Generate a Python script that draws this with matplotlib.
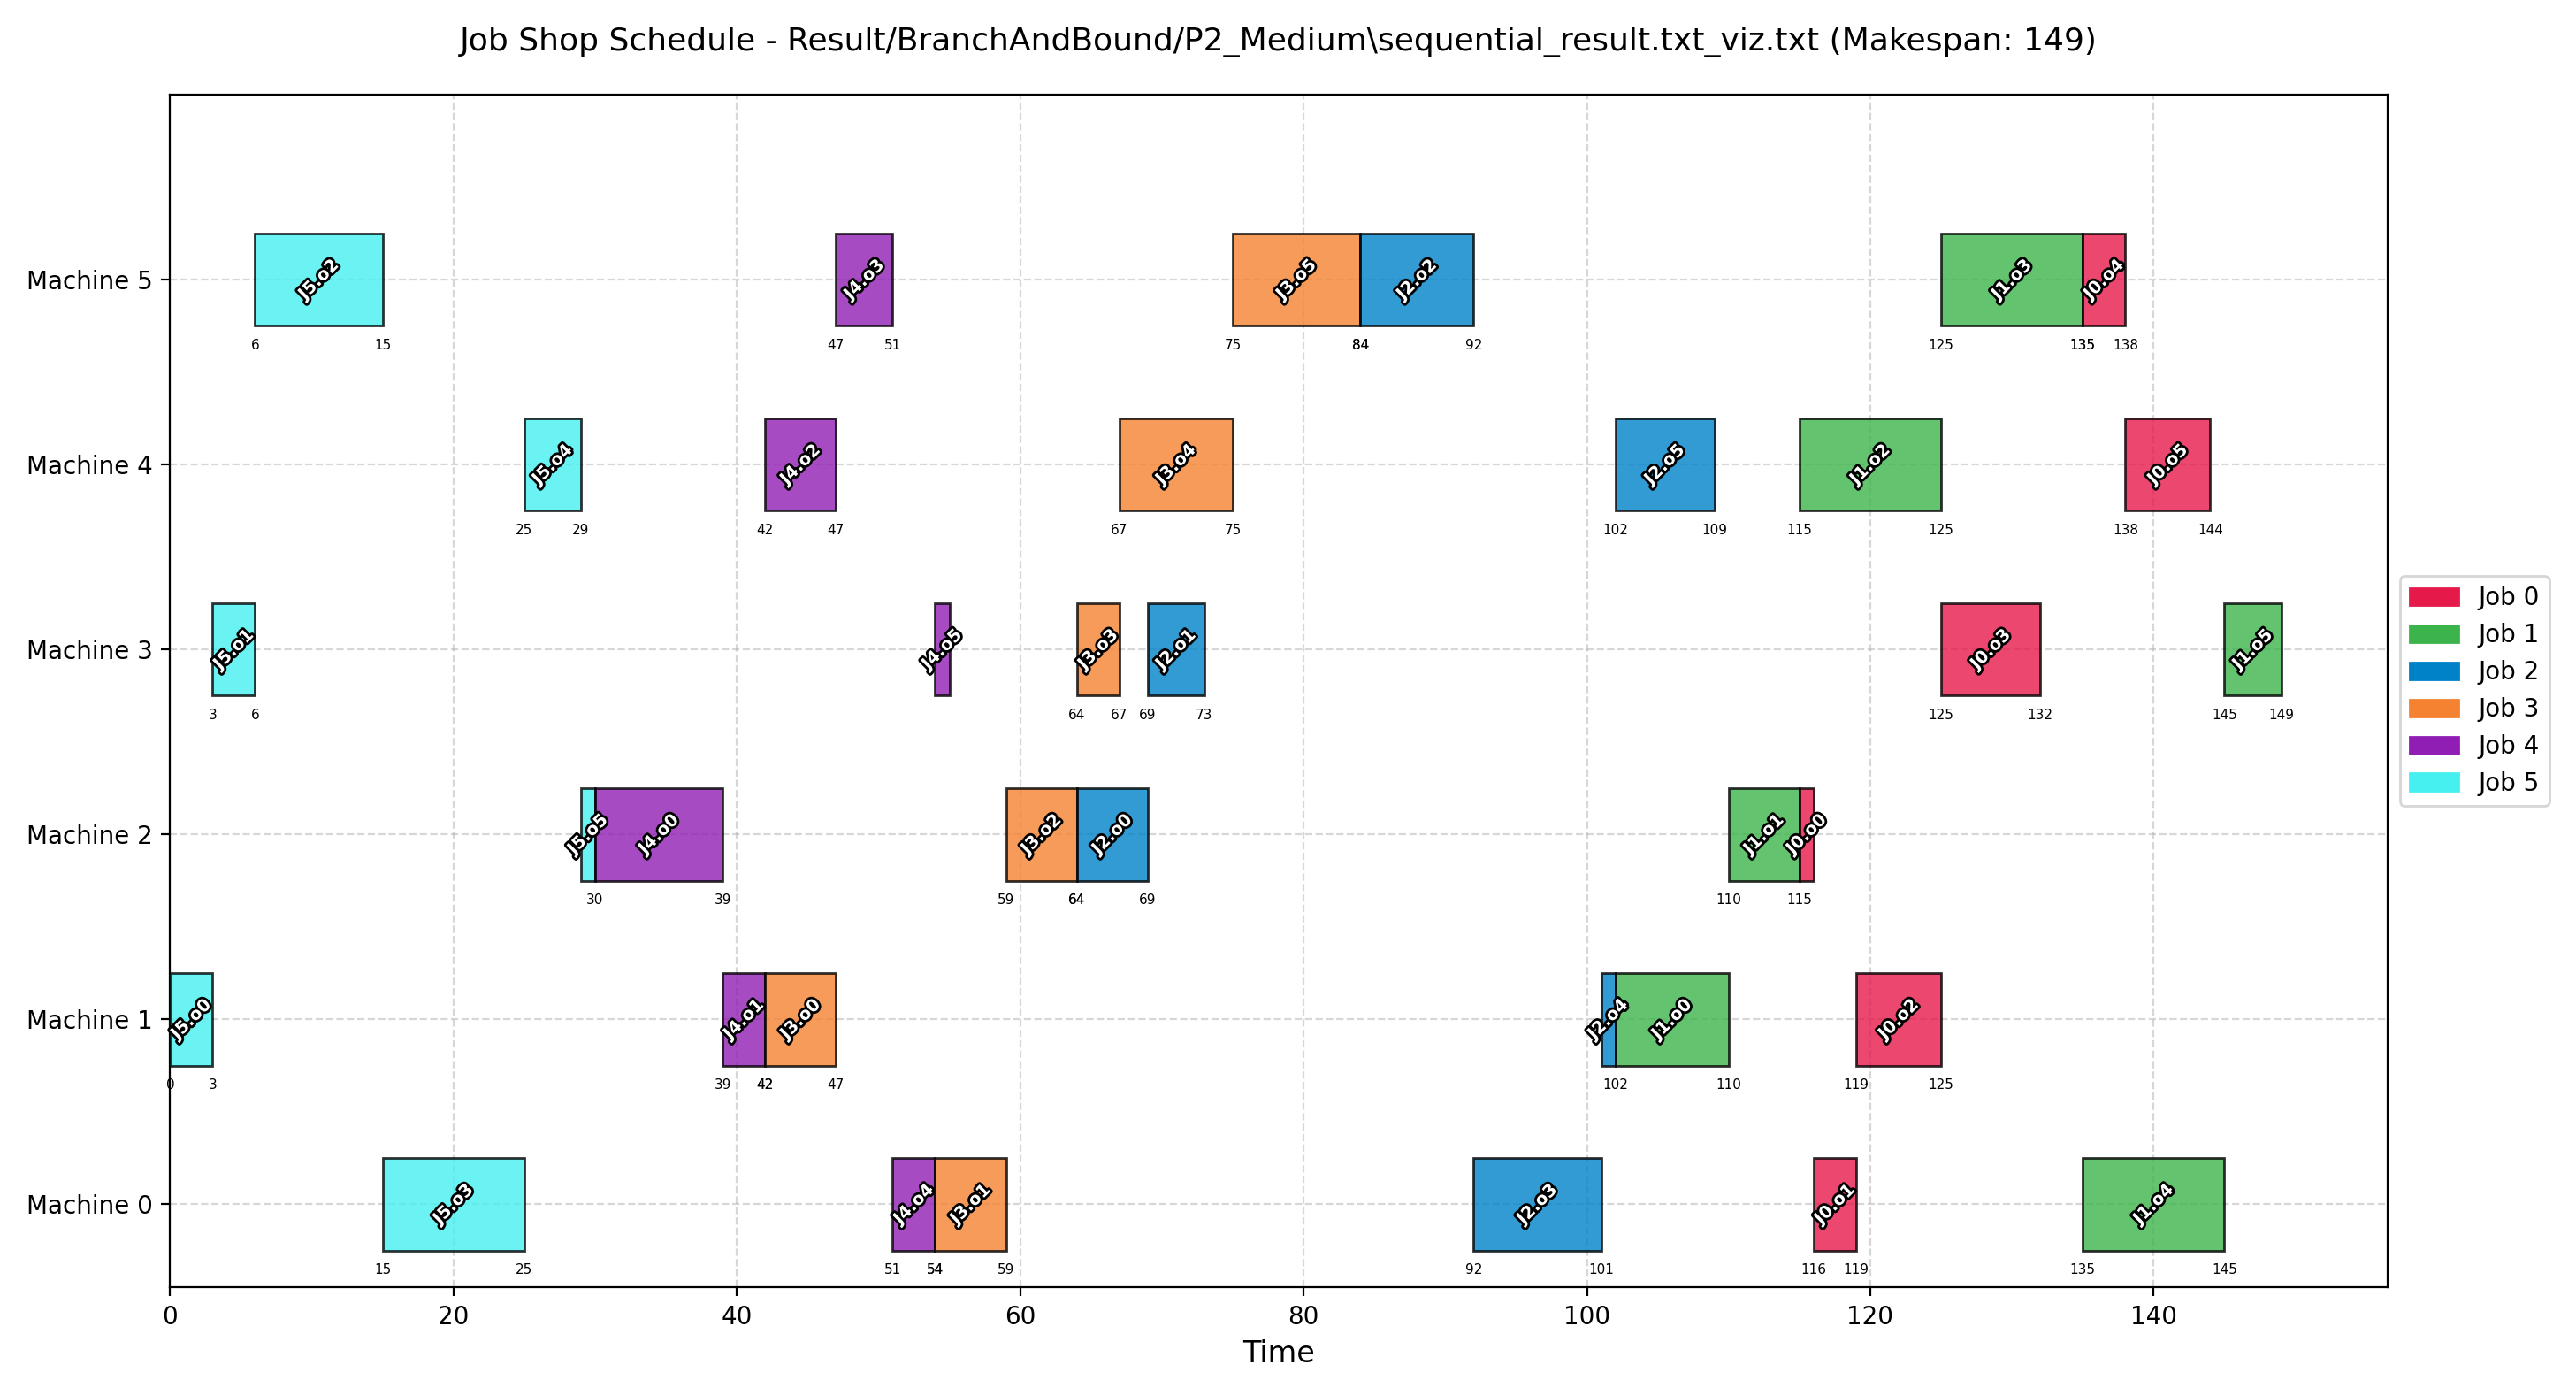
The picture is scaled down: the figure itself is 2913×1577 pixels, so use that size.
import matplotlib.pyplot as plt
import matplotlib.patheffects as pe
from matplotlib.patches import Patch

job_colors = ['#e6194b', '#3cb44b', '#0082c8', '#f58231', '#911eb4', '#46f0f0']

# (machine, job, op, start, end)
ops = [
    (5, 5, 2, 6, 15), (5, 4, 3, 47, 51), (5, 3, 5, 75, 84), (5, 2, 2, 84, 92), (5, 1, 3, 125, 135), (5, 0, 4, 135, 138),
    (4, 5, 4, 25, 29), (4, 4, 2, 42, 47), (4, 3, 4, 67, 75), (4, 2, 5, 102, 109), (4, 1, 2, 115, 125), (4, 0, 5, 138, 144),
    (3, 5, 1, 3, 6), (3, 4, 5, 54, 55), (3, 3, 3, 64, 67), (3, 2, 1, 69, 73), (3, 0, 3, 125, 132), (3, 1, 5, 145, 149),
    (2, 5, 5, 29, 30), (2, 4, 0, 30, 39), (2, 3, 2, 59, 64), (2, 2, 0, 64, 69), (2, 1, 1, 110, 115), (2, 0, 0, 115, 116),
    (1, 5, 0, 0, 3), (1, 4, 1, 39, 42), (1, 3, 0, 42, 47), (1, 2, 4, 101, 102), (1, 1, 0, 102, 110), (1, 0, 2, 119, 125),
    (0, 5, 3, 15, 25), (0, 4, 4, 51, 54), (0, 3, 1, 54, 59), (0, 2, 3, 92, 101), (0, 0, 1, 116, 119), (0, 1, 4, 135, 145),
]
makespan = 149

fig, ax = plt.subplots(figsize=(14.565, 7.885), dpi=200)
for m, j, o, s, e in ops:
    ax.barh(m, e - s, left=s, height=0.5, color=job_colors[j], alpha=0.8,
            edgecolor='black', linewidth=1, zorder=3)
    ax.text((s + e) / 2, m, f'J{j}.o{o}', ha='center', va='center', rotation=45,
            fontsize=7, fontweight='bold', color='white', zorder=4,
            path_effects=[pe.withStroke(linewidth=2, foreground='black')])
    if e - s > 1:
        ax.text(s, m - 0.32, str(s), ha='center', va='top', fontsize=5.5)
        ax.text(e, m - 0.32, str(e), ha='center', va='top', fontsize=5.5)

ax.set_yticks(range(6))
ax.set_yticklabels([f'Machine {i}' for i in range(6)])
ax.set_ylim(-0.45, 6)
ax.set_xlim(0, 156.5)
ax.set_xlabel('Time', fontsize=12)
ax.grid(True, linestyle='--', alpha=0.5, zorder=0)
ax.set_title(r'Job Shop Schedule - Result/BranchAndBound/P2_Medium\sequential_result.txt_viz.txt (Makespan: 149)',
             fontsize=13, pad=18)
handles = [Patch(color=job_colors[i], label=f'Job {i}') for i in range(6)]
ax.legend(handles=handles, loc='center left', bbox_to_anchor=(1.0, 0.5))
plt.tight_layout()
plt.savefig('out.png')
